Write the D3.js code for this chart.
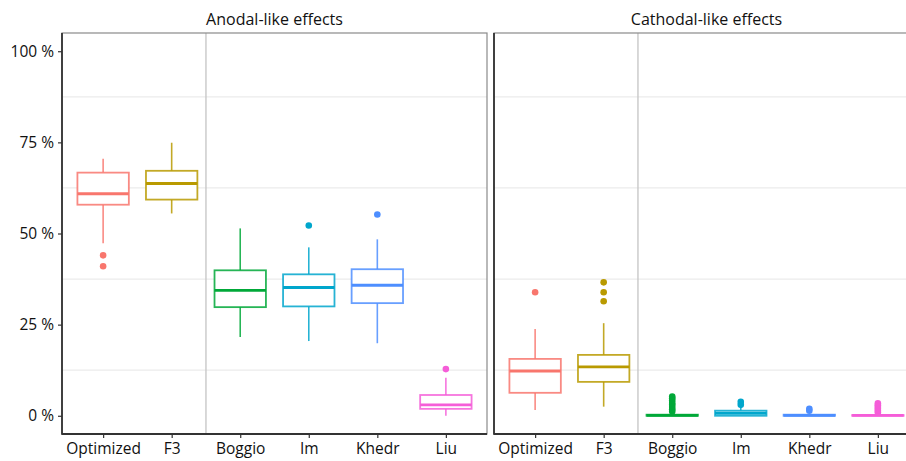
<!DOCTYPE html>
<html><head><meta charset="utf-8">
<script src="https://cdn.jsdelivr.net/npm/d3@7"></script>
<style>body{margin:0;background:#fff;} svg{display:block;font-family:"Open Sans",sans-serif;}</style>
</head><body><svg id="c" width="906" height="461"></svg>
<script>
const categories = ["Optimized","F3","Boggio","Im","Khedr","Liu"];
const colors = ["#F8766D","#B99A00","#00A838","#00A6CC","#4D8EFF","#F55DD8"];
const panelTitles = ["Anodal-like effects","Cathodal-like effects"];
const yTicks = [0,25,50,75,100];
const yTickLabels = ["0 %","25 %","50 %","75 %","100 %"];
const minorGrid = [12.5,37.5,62.5,87.5];

// Anodal-like
const anoLow  = [47.3, 55.5, 21.6, 20.5, 19.9, 0.0];
const anoQ1   = [57.9, 59.3, 29.8, 30.0, 30.9, 1.9];
const anoMed  = [60.9, 63.7, 34.4, 35.2, 35.8, 3.0];
const anoQ3   = [66.7, 67.2, 39.9, 38.8, 40.2, 5.7];
const anoHigh = [70.5, 74.9, 51.4, 46.2, 48.4, 10.4];
const anoOut  = [[44.0, 41.0], [], [], [52.2], [55.2], [12.8]];

// Cathodal-like
const catLow  = [1.6, 2.5, 0.0, 0.0, 0.0, 0.0];
const catQ1   = [6.3, 9.3, 0.0, 0.0, 0.0, 0.0];
const catMed  = [12.3, 13.4, 0.1, 0.7, 0.1, 0.1];
const catQ3   = [15.6, 16.7, 0.3, 1.4, 0.3, 0.2];
const catHigh = [23.8, 25.4, 0.6, 2.4, 0.6, 0.5];
const catOut  = [[33.9], [36.6, 33.9, 31.4], [1.2,1.8,2.4,3.0,3.5,4.2,4.8,5.3], [3.0, 3.8], [1.4, 1.9], [0.9,1.4,1.9,2.4,2.9,3.4]];

const panels = [
  {title: panelTitles[0], x0: 62, low: anoLow, q1: anoQ1, med: anoMed, q3: anoQ3, high: anoHigh, out: anoOut, yAxis: true},
  {title: panelTitles[1], x0: 494, low: catLow, q1: catQ1, med: catMed, q3: catQ3, high: catHigh, out: catOut, yAxis: false}
];
const pw = 425, pTop = 33, pBottom = 434;
const svg = d3.select("#c");
const y = d3.scaleLinear().domain([-5,105]).range([pBottom, pTop]);

panels.forEach(p => {
  const g = svg.append("g");
  const x = d3.scalePoint().domain(categories).range([p.x0, p.x0+pw]).padding(0.6);
  const step = x.step();
  const bw = step*0.75;
  g.selectAll(".gm").data(minorGrid).join("line")
    .attr("x1", p.x0).attr("x2", p.x0+pw).attr("y1", d=>y(d)).attr("y2", d=>y(d))
    .attr("stroke", "#ebebeb").attr("stroke-width", 1.3);
  const sx = (x("F3")+x("Boggio"))/2;
  g.append("line").attr("x1", sx).attr("x2", sx).attr("y1", pTop).attr("y2", pBottom)
    .attr("stroke", "#c4c4c4").attr("stroke-width", 1.3);
  categories.forEach((c,i) => {
    const cx = x(c), col = colors[i];
    const bg = g.append("g");
    bg.append("line").attr("x1",cx).attr("x2",cx).attr("y1",y(p.q3[i])).attr("y2",y(p.high[i]))
      .attr("stroke",col).attr("stroke-width",1.6).attr("stroke-opacity",0.85);
    bg.append("line").attr("x1",cx).attr("x2",cx).attr("y1",y(p.q1[i])).attr("y2",y(p.low[i]))
      .attr("stroke",col).attr("stroke-width",1.6).attr("stroke-opacity",0.85);
    bg.append("rect").attr("x",cx-bw/2).attr("width",bw)
      .attr("y",y(p.q3[i])).attr("height",Math.max(0,y(p.q1[i])-y(p.q3[i])))
      .attr("fill","#fff").attr("stroke",col).attr("stroke-width",1.8).attr("stroke-opacity",0.85);
    bg.append("line").attr("x1",cx-bw/2).attr("x2",cx+bw/2).attr("y1",y(p.med[i])).attr("y2",y(p.med[i]))
      .attr("stroke",col).attr("stroke-width",2.9);
    bg.selectAll("circle").data(p.out[i]).join("circle")
      .attr("cx",cx).attr("cy",d=>y(d)).attr("r",3.3).attr("fill",col);
  });
  g.append("rect").attr("x",p.x0).attr("y",pTop).attr("width",pw).attr("height",pBottom-pTop)
    .attr("fill","none").attr("stroke","#8a8a8a").attr("stroke-width",1.2);
  g.append("line").attr("x1",p.x0).attr("x2",p.x0).attr("y1",pTop).attr("y2",pBottom+0.8)
    .attr("stroke","#333").attr("stroke-width",1.8);
  g.append("line").attr("x1",p.x0).attr("x2",p.x0+pw).attr("y1",pBottom).attr("y2",pBottom)
    .attr("stroke","#333").attr("stroke-width",1.8);
  const xa = g.append("g").attr("transform",`translate(0,${pBottom})`)
    .call(d3.axisBottom(x).tickSize(4).tickPadding(5));
  xa.select(".domain").remove();
  xa.selectAll("line").attr("stroke","#333").attr("stroke-width",1.2);
  xa.selectAll("text").attr("fill","#111").style("font-size","15.5px").style("font-family","'Open Sans',sans-serif");
  if (p.yAxis) {
    const ya = g.append("g").attr("transform",`translate(${p.x0},0)`)
      .call(d3.axisLeft(y).tickValues(yTicks).tickFormat((d,i)=>yTickLabels[i]).tickSize(4).tickPadding(4));
    ya.select(".domain").remove();
    ya.selectAll("line").attr("stroke","#333").attr("stroke-width",1.2);
    ya.selectAll("text").attr("fill","#111").style("font-size","15.5px").style("font-family","'Open Sans',sans-serif");
  }
  g.append("text").attr("x",p.x0+pw/2).attr("y",25).attr("text-anchor","middle")
    .attr("fill","#111").style("font-size","16px").text(p.title);
});
</script></body></html>
